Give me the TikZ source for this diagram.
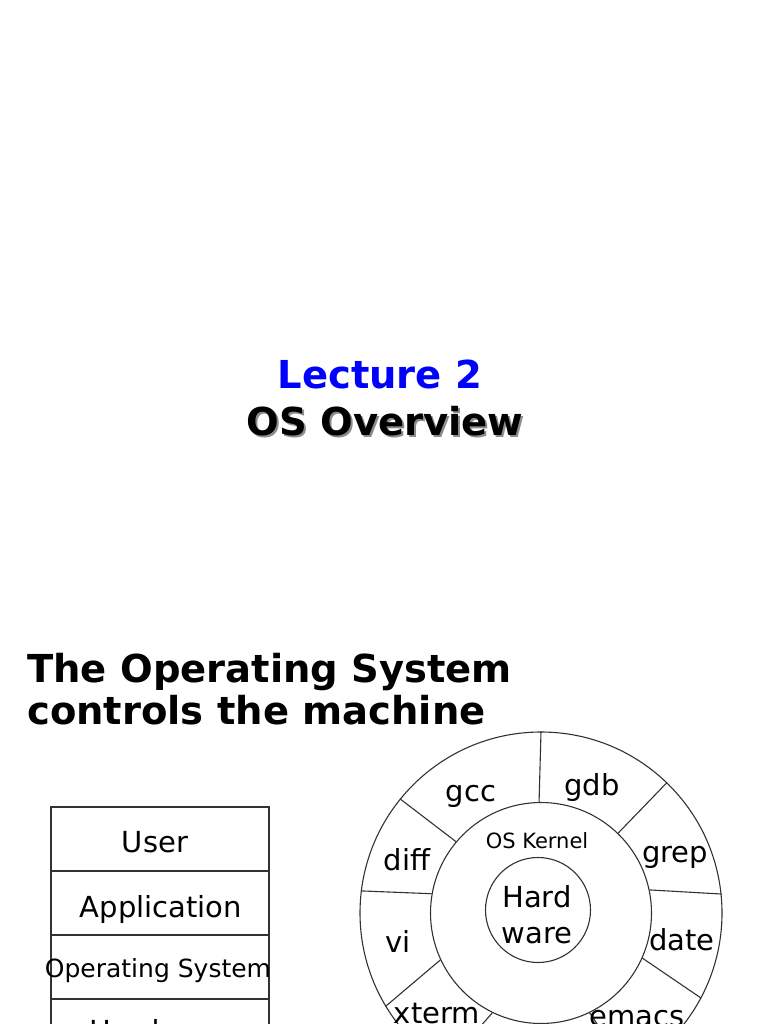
\documentclass[tikz,border=0pt]{standalone}
\usepackage{fontspec}
\usetikzlibrary{positioning}
\setmainfont{DejaVu Sans}
\definecolor{titleblue}{RGB}{0,0,255}
\definecolor{linegray}{RGB}{50,50,50}
\begin{document}
\begin{tikzpicture}[x=1pt,y=-1pt,
    layer/.style={draw=linegray, line width=1.1pt, minimum width=218pt, minimum height=64pt, inner sep=0pt, outer sep=0pt},
    ring/.style={circle, draw=linegray, line width=1.1pt, inner sep=0pt},
    spoke/.style={draw=linegray, line width=1.1pt},
    prog/.style={anchor=base, inner sep=0pt, font=\fontsize{29}{34}\selectfont},
    titletext/.style={anchor=base, inner sep=0pt, font=\fontsize{38.5}{46}\selectfont\bfseries}]
    \useasboundingbox (0,0) rectangle (768,1024);
    \clip (0,0) rectangle (768,1024);

    % Title slide
    \node[titletext, text=titleblue] (lecture) at (380,388) {Lecture 2};
    \node[titletext, text=black!45] (shadow) at (387,437.5) {OS Overview};
    \node[titletext] (overview) at (385,435.5) {OS Overview};

    % Heading
    \node[titletext, anchor=base west] (head1) at (27,682) {The Operating System};
    \node[titletext, anchor=base west] (head2) at (27,724) {controls the machine};

    % Layer stack
    \node[layer] (user) at (160,839) {};
    \node[layer, below=0pt of user] (app) {};
    \node[layer, below=0pt of app] (os) {};
    \node[layer, below=0pt of os] (hw) {};
    \node[prog] at (155,852) {User};
    \node[prog] at (161,917) {Application};
    \node[prog, font=\fontsize{25}{30}\selectfont] at (158,977) {Operating System};
    \node[prog] at (160,1041) {Hardware};

    % Rings
    \node[ring, minimum size=362pt] (outer) at (541,913) {};
    \node[ring, minimum size=221pt] (kernel) at (541,913) {};
    \node[ring, minimum size=105pt] (hard) at (538,910) {};

    % Spokes between kernel and outer ring
    \foreach \a/\b in {91/90.5, 46/46, 12/6.6, -24/-28.4, 140/141.3, 170/173.7, 205/211.4, 244/238.6, -64/-61.4}
        \draw[spoke] (kernel.\a) -- (outer.\b);

    % Programs
    \node[prog] (gcc) at (471,801) {gcc};
    \node[prog] (gdb) at (592,795) {gdb};
    \node[prog] (diff) at (407,870) {diff};
    \node[prog] (grep) at (675,862) {grep};
    \node[prog] (vi) at (398,952) {vi};
    \node[prog] (date) at (682,950) {date};
    \node[prog] (xterm) at (437,1023) {xterm};
    \node[prog] (emacs) at (637,1026) {emacs};

    \node[prog, font=\fontsize{21}{25}\selectfont] (oskernel) at (537,848) {OS Kernel};
    \node[prog] (hard1) at (537,907) {Hard};
    \node[prog] (hard2) at (537,943) {ware};
\end{tikzpicture}
\end{document}
